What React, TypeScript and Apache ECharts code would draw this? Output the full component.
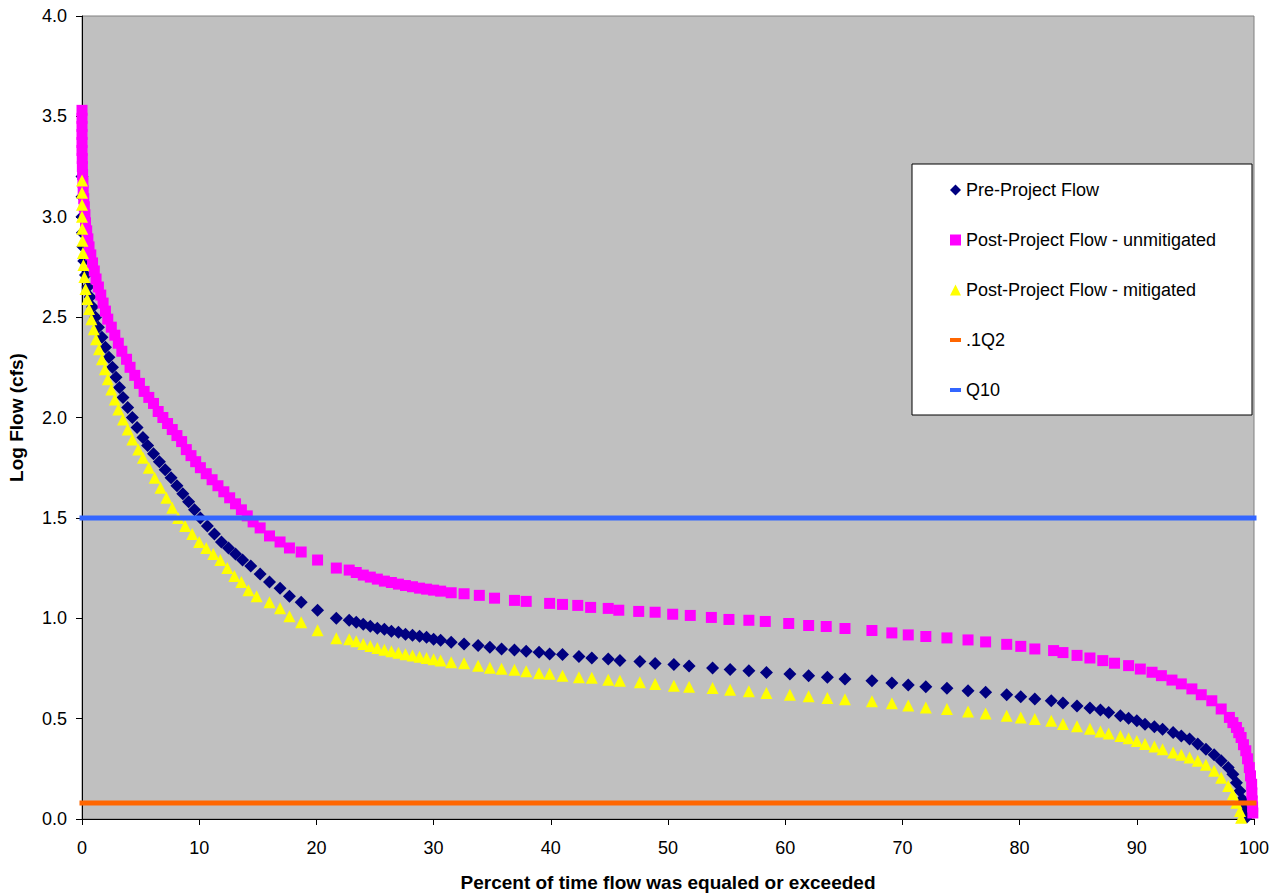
import React, { useEffect, useRef } from "react";
import * as echarts from "echarts";

const FONT = '"Liberation Sans", Arial, sans-serif';

const xTicks = [0, 10, 20, 30, 40, 50, 60, 70, 80, 90, 100];
const yTicks = [0, 0.5, 1, 1.5, 2, 2.5, 3, 3.5, 4];

const seriesNames = [
  "Pre-Project Flow",
  "Post-Project Flow - unmitigated",
  "Post-Project Flow - mitigated",
  ".1Q2",
  "Q10",
];

const preProject = [
  [0, 3.2], [0, 3.1], [0, 3.0], [0.03, 2.92], [0.08, 2.85], [0.15, 2.78], [0.3, 2.71], [0.5, 2.65],
  [0.7, 2.6], [0.9, 2.55], [1.15, 2.5], [1.4, 2.45], [1.7, 2.4], [2.0, 2.35], [2.3, 2.3], [2.6, 2.25],
  [2.9, 2.2], [3.2, 2.15], [3.5, 2.1], [3.9, 2.05], [4.3, 2.0], [4.7, 1.95], [5.2, 1.9], [5.6, 1.86],
  [6.1, 1.82], [6.6, 1.78], [7.1, 1.74], [7.6, 1.7], [8.1, 1.66], [8.6, 1.62], [9.1, 1.58], [9.6, 1.54],
  [10.1, 1.5], [10.7, 1.46], [11.3, 1.42], [11.9, 1.38], [12.5, 1.35], [13.1, 1.32], [13.7, 1.29],
  [14.4, 1.26], [15.2, 1.22], [16.0, 1.18], [16.9, 1.15], [17.7, 1.11], [18.7, 1.08], [20.1, 1.04],
  [21.7, 1.0], [22.8, 0.99], [23.4, 0.98], [24.0, 0.97], [24.6, 0.96], [25.2, 0.95], [25.8, 0.945],
  [26.4, 0.935], [27.0, 0.93], [27.6, 0.92], [28.2, 0.915], [28.8, 0.91], [29.4, 0.905], [30.0, 0.895],
  [30.6, 0.89], [31.5, 0.88], [32.6, 0.872], [33.8, 0.864], [34.8, 0.856], [35.8, 0.847], [36.9, 0.842],
  [37.9, 0.836], [39.0, 0.831], [39.9, 0.822], [41.0, 0.819], [42.4, 0.809], [43.5, 0.802], [44.9, 0.797],
  [45.9, 0.789], [47.6, 0.784], [48.9, 0.775], [50.5, 0.769], [51.8, 0.762], [53.8, 0.752], [55.3, 0.745],
  [56.9, 0.739], [58.4, 0.73], [60.4, 0.722], [62.0, 0.714], [63.6, 0.706], [65.1, 0.697], [67.4, 0.689],
  [69.1, 0.677], [70.5, 0.667], [72.0, 0.659], [73.8, 0.651], [75.6, 0.639], [77.1, 0.631], [78.9, 0.619],
  [80.1, 0.609], [81.3, 0.598], [82.7, 0.589], [83.7, 0.578], [84.9, 0.563], [86.0, 0.553], [86.9, 0.543],
  [87.6, 0.531], [88.6, 0.514], [89.3, 0.502], [90.0, 0.489], [90.7, 0.472], [91.5, 0.459], [92.2, 0.447],
  [93.1, 0.431], [93.8, 0.414], [94.5, 0.398], [95.2, 0.373], [95.9, 0.348], [96.6, 0.32], [97.2, 0.29],
  [97.8, 0.256], [98.2, 0.223], [98.5, 0.181], [98.8, 0.14], [99.0, 0.098], [99.2, 0.056], [99.4, 0.01],
];

const postUnmitigated = [
  [0, 3.53], [0, 3.49], [0, 3.45], [0, 3.41], [0, 3.37], [0, 3.33], [0.02, 3.29], [0.03, 3.25],
  [0.05, 3.21], [0.08, 3.17], [0.1, 3.13], [0.15, 3.09], [0.2, 3.05], [0.25, 3.01], [0.3, 2.97],
  [0.4, 2.93], [0.5, 2.89], [0.6, 2.85], [0.75, 2.81], [0.9, 2.77], [1.05, 2.73], [1.2, 2.69],
  [1.4, 2.65], [1.6, 2.61], [1.8, 2.57], [2.0, 2.53], [2.2, 2.49], [2.5, 2.45], [2.8, 2.41], [3.1, 2.37],
  [3.4, 2.33], [3.8, 2.29], [4.1, 2.25], [4.5, 2.21], [4.9, 2.17], [5.3, 2.13], [5.7, 2.1], [6.1, 2.07],
  [6.5, 2.03], [6.9, 2.0], [7.3, 1.97], [7.7, 1.94], [8.1, 1.91], [8.5, 1.88], [8.9, 1.84], [9.3, 1.81],
  [9.7, 1.78], [10.1, 1.75], [10.6, 1.72], [11.1, 1.69], [11.6, 1.66], [12.1, 1.63], [12.6, 1.6],
  [13.1, 1.57], [13.6, 1.54], [14.1, 1.51], [14.6, 1.48], [15.2, 1.45], [16.0, 1.41], [16.9, 1.38],
  [17.7, 1.35], [18.7, 1.33], [20.1, 1.29], [21.7, 1.25], [22.8, 1.24], [23.4, 1.228], [24.0, 1.215],
  [24.6, 1.205], [25.2, 1.195], [25.8, 1.185], [26.4, 1.178], [27.0, 1.17], [27.6, 1.163], [28.2, 1.157],
  [28.8, 1.15], [29.4, 1.145], [30.0, 1.14], [30.6, 1.135], [31.5, 1.127], [32.6, 1.122], [33.9, 1.114],
  [35.2, 1.1], [36.9, 1.089], [37.9, 1.084], [39.9, 1.074], [41.0, 1.069], [42.3, 1.064], [43.4, 1.054],
  [44.9, 1.049], [45.8, 1.04], [47.5, 1.034], [48.9, 1.03], [50.4, 1.02], [51.9, 1.014], [53.7, 1.004],
  [55.2, 0.994], [56.9, 0.99], [58.3, 0.984], [60.3, 0.974], [62.0, 0.964], [63.5, 0.959], [65.1, 0.949],
  [67.4, 0.939], [69.1, 0.927], [70.5, 0.917], [72.0, 0.909], [73.8, 0.902], [75.6, 0.892], [77.1, 0.882],
  [78.9, 0.87], [80.1, 0.86], [81.3, 0.847], [82.9, 0.839], [83.7, 0.829], [84.9, 0.815], [86.0, 0.802],
  [87.1, 0.789], [88.1, 0.776], [89.3, 0.764], [90.3, 0.747], [91.3, 0.731], [92.1, 0.714], [93.0, 0.692],
  [93.8, 0.673], [94.7, 0.648], [95.5, 0.619], [96.4, 0.589], [97.2, 0.548], [97.9, 0.506], [98.2, 0.48],
  [98.5, 0.456], [98.7, 0.43], [98.9, 0.406], [99.1, 0.37], [99.3, 0.34], [99.45, 0.3], [99.6, 0.256],
  [99.7, 0.215], [99.8, 0.173], [99.82, 0.13], [99.85, 0.09], [99.88, 0.06], [99.9, 0.03],
];

const postMitigated = [
  [0, 3.18], [0, 3.12], [0, 3.06], [0, 3.0], [0.02, 2.94], [0.04, 2.88], [0.08, 2.82], [0.12, 2.76],
  [0.2, 2.7], [0.3, 2.64], [0.45, 2.59], [0.6, 2.54], [0.8, 2.49], [1.0, 2.44], [1.2, 2.39], [1.45, 2.34],
  [1.7, 2.29], [1.95, 2.24], [2.2, 2.19], [2.5, 2.14], [2.8, 2.09], [3.1, 2.04], [3.5, 1.99], [3.9, 1.94],
  [4.3, 1.89], [4.8, 1.84], [5.2, 1.8], [5.7, 1.75], [6.2, 1.7], [6.7, 1.65], [7.2, 1.6], [7.7, 1.55],
  [8.2, 1.5], [8.8, 1.46], [9.4, 1.42], [10.0, 1.38], [10.6, 1.35], [11.2, 1.32], [11.8, 1.29],
  [12.4, 1.25], [13.0, 1.21], [13.6, 1.18], [14.2, 1.14], [14.9, 1.11], [16.0, 1.08], [16.9, 1.05],
  [17.7, 1.01], [18.7, 0.98], [20.1, 0.94], [21.7, 0.9], [22.8, 0.895], [23.4, 0.885], [24.0, 0.872],
  [24.6, 0.862], [25.2, 0.852], [25.8, 0.843], [26.4, 0.835], [27.0, 0.828], [27.6, 0.821], [28.2, 0.814],
  [28.8, 0.808], [29.4, 0.802], [30.0, 0.796], [30.6, 0.79], [31.5, 0.781], [32.6, 0.776], [33.8, 0.764],
  [34.8, 0.753], [35.8, 0.748], [36.9, 0.743], [37.9, 0.736], [39.0, 0.726], [39.9, 0.723], [41.0, 0.714],
  [42.4, 0.706], [43.5, 0.703], [44.9, 0.694], [45.9, 0.689], [47.6, 0.681], [48.9, 0.673], [50.5, 0.664],
  [51.8, 0.659], [53.8, 0.652], [55.3, 0.644], [56.9, 0.636], [58.4, 0.628], [60.4, 0.619], [62.0, 0.611],
  [63.6, 0.603], [65.1, 0.596], [67.4, 0.586], [69.1, 0.576], [70.5, 0.566], [72.0, 0.556], [73.8, 0.548],
  [75.6, 0.536], [77.1, 0.526], [78.9, 0.514], [80.1, 0.506], [81.3, 0.498], [82.7, 0.489], [83.7, 0.473],
  [84.9, 0.462], [86.0, 0.45], [86.9, 0.436], [87.6, 0.426], [88.6, 0.414], [89.3, 0.402], [90.0, 0.389],
  [90.7, 0.373], [91.5, 0.361], [92.2, 0.348], [93.1, 0.331], [93.8, 0.32], [94.5, 0.306], [95.2, 0.29],
  [95.9, 0.27], [96.6, 0.24], [97.2, 0.206], [97.8, 0.165], [98.2, 0.123], [98.5, 0.081], [98.8, 0.04],
  [98.9, 0.006],
];

const tenthQ2Value = 0.08;
const q10Value = 1.5;
const lineSpan = [0, 100];

export default function App() {
  const ref = useRef<HTMLDivElement>(null);

  useEffect(() => {
    if (!ref.current) return;
    const chart = echarts.init(ref.current, null, { renderer: "svg" });

    const dash = "path://M0,0H11V4H0Z";

    chart.setOption({
      animation: false,
      backgroundColor: "#ffffff",
      textStyle: { fontFamily: FONT },
      grid: {
        left: 82,
        top: 16,
        right: 31,
        bottom: 76,
        show: true,
        containLabel: false,
        outerBoundsMode: "none",
        backgroundColor: "#C0C0C0",
        borderColor: "#808080",
        borderWidth: 1,
      },
      xAxis: {
        type: "value",
        min: xTicks[0],
        max: xTicks[xTicks.length - 1],
        interval: xTicks[1] - xTicks[0],
        name: "Percent of time flow was equaled or exceeded",
        nameLocation: "middle",
        nameGap: 54,
        nameTextStyle: { fontFamily: FONT, fontSize: 19, fontWeight: "bold", color: "#000" },
        axisLine: { show: true, lineStyle: { color: "#000", width: 1 } },
        axisTick: { show: true, length: 6, lineStyle: { color: "#000" } },
        axisLabel: { fontFamily: FONT, fontSize: 18, color: "#000", margin: 20 },
        splitLine: { show: false },
      },
      yAxis: {
        type: "value",
        min: yTicks[0],
        max: yTicks[yTicks.length - 1],
        interval: yTicks[1] - yTicks[0],
        name: "Log Flow (cfs)",
        nameLocation: "middle",
        nameGap: 56,
        nameTextStyle: { fontFamily: FONT, fontSize: 19, fontWeight: "bold", color: "#000" },
        axisLine: { show: true, lineStyle: { color: "#000", width: 1 } },
        axisTick: { show: true, length: 6, lineStyle: { color: "#000" } },
        axisLabel: {
          fontFamily: FONT,
          fontSize: 18,
          color: "#000",
          margin: 15,
          formatter: (v: number) => v.toFixed(1),
        },
        splitLine: { show: false },
      },
      legend: {
        orient: "vertical",
        left: 950,
        top: 181,
        padding: 0,
        itemGap: 32,
        itemWidth: 11,
        itemHeight: 11,
        selectedMode: false,
        z: 5,
        textStyle: { fontFamily: FONT, fontSize: 18, color: "#000", lineHeight: 18 },
        data: [
          { name: seriesNames[0], icon: "diamond" },
          { name: seriesNames[1], icon: "rect" },
          { name: seriesNames[2], icon: "triangle" },
          { name: seriesNames[3], icon: dash },
          { name: seriesNames[4], icon: dash },
        ],
      },
      graphic: {
        elements: [
          {
            type: "rect",
            z: 4,
            shape: { x: 912, y: 164, width: 340, height: 251 },
            style: { fill: "#ffffff", stroke: "#000000", lineWidth: 1 },
            silent: true,
          },
        ],
      },
      series: [
        {
          name: seriesNames[0],
          type: "scatter",
          data: preProject,
          symbol: "diamond",
          symbolSize: 13,
          clip: false,
          itemStyle: { color: "#000080", opacity: 1 },
        },
        {
          name: seriesNames[1],
          type: "scatter",
          data: postUnmitigated,
          symbol: "rect",
          symbolSize: 11,
          clip: false,
          itemStyle: { color: "#FF00FF", opacity: 1 },
        },
        {
          name: seriesNames[2],
          type: "scatter",
          data: postMitigated,
          symbol: "triangle",
          symbolSize: 12,
          clip: false,
          itemStyle: { color: "#FFFF00", opacity: 1 },
        },
        {
          name: seriesNames[3],
          type: "line",
          data: lineSpan.map((x) => [x, tenthQ2Value]),
          showSymbol: false,
          symbol: "none",
          clip: false,
          itemStyle: { color: "#FF6600" },
          lineStyle: { color: "#FF6600", width: 5, cap: "square" },
        },
        {
          name: seriesNames[4],
          type: "line",
          data: lineSpan.map((x) => [x, q10Value]),
          showSymbol: false,
          symbol: "none",
          clip: false,
          itemStyle: { color: "#3366FF" },
          lineStyle: { color: "#3366FF", width: 5, cap: "square" },
        },
      ],
    });

    return () => {
      chart.dispose();
    };
  }, []);

  return (
    <div
      ref={ref}
      style={{ position: "absolute", left: 0, top: 0, width: 1285, height: 895 }}
    />
  );
}
